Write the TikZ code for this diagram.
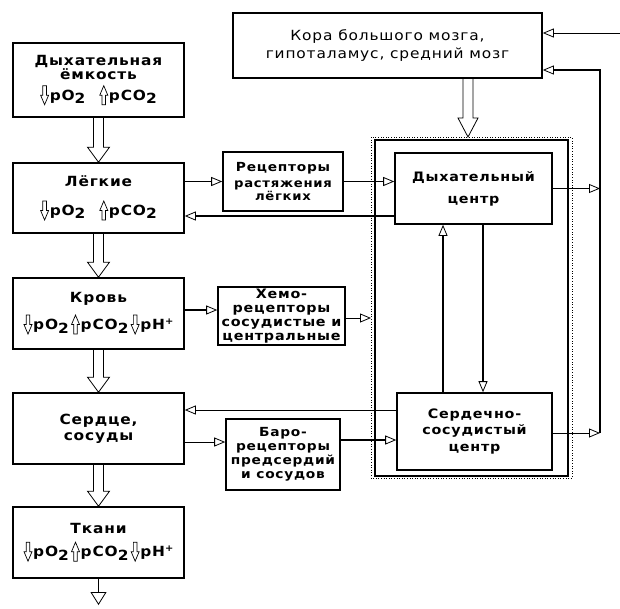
\documentclass[tikz,border=0pt]{standalone}
\usepackage{fontspec}
\usepackage{graphicx}
\setmainfont{DejaVu Sans}[LetterSpace=6,FakeStretch=1.1]
\usetikzlibrary{arrows.meta,calc}
\newsavebox\dnbox
\newsavebox\upbox
\newcommand{\dnA}{\usebox\dnbox\kern0.8pt}
\newcommand{\upA}{\usebox\upbox\kern0.8pt}
\newcommand{\lowtwo}{\raisebox{-0.45ex}{2}}
\newcommand{\supplus}{\raisebox{0.7ex}{\small+}}
\newcommand{\ptp}[2]{\pgfpoint{#1pt}{#2pt}}
\newcommand{\blockarr}[2]{%
  \draw[blk] ($(#1)+(-5,0)$) -- ($(#2)+(-5,-15)$) -- ($(#2)+(-11,-15)$) -- (#2)
     -- ($(#2)+(11,-15)$) -- ($(#2)+(5,-15)$) -- ($(#1)+(5,0)$);}
\tikzset{
  box/.style={draw, line width=1.6pt, inner sep=0pt, align=center},
  blk/.style={line width=0.8pt, line join=miter},
  hol/.style={-{Triangle[open,length=11pt,width=9pt,line width=0.8pt]}},
  thinc/.style={line width=0.9pt, hol},
  thickc/.style={line width=2.6pt, hol},
}
\begin{document}
\sbox\dnbox{\begin{pgfpicture}\pgfsetbaseline{0pt}\pgfsetlinewidth{0.7pt}\pgfsetmiterjoin
\pgfpathmoveto{\ptp{-1.8}{14.5}}\pgfpathlineto{\ptp{-1.8}{5}}\pgfpathlineto{\ptp{-4}{5}}\pgfpathlineto{\ptp{0}{-4.5}}\pgfpathlineto{\ptp{4}{5}}\pgfpathlineto{\ptp{1.8}{5}}\pgfpathlineto{\ptp{1.8}{14.5}}\pgfpathclose\pgfusepath{stroke}\end{pgfpicture}}%
\sbox\upbox{\begin{pgfpicture}\pgfsetbaseline{0pt}\pgfsetlinewidth{0.7pt}\pgfsetmiterjoin
\pgfpathmoveto{\ptp{-1.8}{-4.5}}\pgfpathlineto{\ptp{-1.8}{5}}\pgfpathlineto{\ptp{-4}{5}}\pgfpathlineto{\ptp{0}{14.5}}\pgfpathlineto{\ptp{4}{5}}\pgfpathlineto{\ptp{1.8}{5}}\pgfpathlineto{\ptp{1.8}{-4.5}}\pgfpathclose\pgfusepath{stroke}\end{pgfpicture}}%
\begin{tikzpicture}[x=1pt,y=-1pt]
\useasboundingbox (0,0) rectangle (620,608);
\fill[white] (0,0) rectangle (620,608);
\fontsize{14}{16}\selectfont\bfseries
% left column
\node[box, minimum width=171pt, minimum height=74pt] (dyem) at (98.5,80)
  {Дыхательная\\[-2pt]ёмкость\\[5pt]\dnA pO\lowtwo\quad\upA pCO\lowtwo};
\node[box, minimum width=171pt, minimum height=70pt] (leg) at (98.5,198)
  {Лёгкие\\[13pt]\dnA pO\lowtwo\quad\upA pCO\lowtwo};
\node[box, minimum width=171pt, minimum height=71pt] (krov) at (98.5,313.5)
  {Кровь\\[8pt]\dnA pO\lowtwo\,\upA pCO\lowtwo\,\dnA pH\supplus};
\node[box, minimum width=171pt, minimum height=71pt] (serd) at (98.5,428.5)
  {Сердце,\\сосуды};
\node[box, minimum width=171pt, minimum height=71pt] (tkan) at (98.5,542.5)
  {Ткани\\[7pt]\dnA pO\lowtwo\,\upA pCO\lowtwo\,\dnA pH\supplus};
% right part
\node[box, minimum width=309pt, minimum height=65pt, font=\mdseries\fontsize{14}{18}\selectfont] (kora) at (387.5,45.5)
  {Кора большого мозга,\\гипоталамус, средний мозг};
\draw[line width=0.6pt, dotted] (371,137) rectangle (572,478);
\node[draw, line width=1.2pt, minimum width=193pt, minimum height=336pt, inner sep=0pt] (grp) at (471.5,308) {};
\node[box, minimum width=157pt, minimum height=71pt, font=\bfseries\fontsize{13}{22}\selectfont] (dc) at (473.5,188.5)
  {Дыхательный\\центр};
\node[box, minimum width=155pt, minimum height=77pt, font=\bfseries\fontsize{13}{16.5}\selectfont] (ssc) at (474.5,431.5)
  {Сердечно-\\сосудистый\\центр};
\node[box, minimum width=120pt, minimum height=59pt, font=\bfseries\fontsize{12.5}{14}\selectfont] (rec) at (283,181.5)
  {Рецепторы\\[2pt]{\fontsize{12}{12}\selectfont растяжения}\\[-1pt]{\fontsize{12}{12}\selectfont лёгких}};
\node[box, minimum width=127pt, minimum height=58pt, font=\bfseries\fontsize{13}{14}\selectfont] (chem) at (281.5,316)
  {Хемо-\\рецепторы\\сосудистые и\\центральные};
\node[box, minimum width=114pt, minimum height=71pt, font=\bfseries\fontsize{12.5}{14}\selectfont] (baro) at (283,454.5)
  {Баро-\\рецепторы\\предсердий\\и сосудов};
% block arrows
\blockarr{dyem.south}{leg.north}
\blockarr{leg.south}{krov.north}
\blockarr{krov.south}{serd.north}
\blockarr{serd.south}{tkan.north}
\coordinate (ka) at (468,78);
\coordinate (kb) at (468,137);
\draw[blk] ($(ka)+(-5,0)$) -- ($(kb)+(-5,-19)$) -- ($(kb)+(-10,-19)$) -- (kb)
     -- ($(kb)+(10,-19)$) -- ($(kb)+(5,-19)$) -- ($(ka)+(5,0)$);
\coordinate (tend) at (98.5,605);
\draw[line width=0.9pt, -{Triangle[open,length=13pt,width=16pt,line width=0.8pt]}] (tkan.south) -- (tend);
% connectors
\draw[thinc] (rec.west -| leg.east) -- (rec.west);
\draw[thinc] (rec.east) -- (rec.east -| dc.west);
\coordinate (dl) at (395,216);
\draw[thickc] (dl) -- (dl -| leg.east);
\coordinate (kc) at (184,310);
\draw[line width=1.8pt, hol] (kc) -- (kc -| chem.west);
\coordinate (cg) at (345,318);
\draw[thinc] (cg) -- (371,318);
\coordinate (sw) at (397,410);
\draw[thinc] (sw) -- (sw -| serd.east);
\coordinate (sb) at (184,442);
\draw[thinc] (sb) -- (sb -| baro.west);
\coordinate (bs) at (340,440);
\draw[thickc] (bs) -- (bs -| ssc.west);
\coordinate (v1) at (443,393);
\draw[thickc] (v1) -- (v1 |- dc.south);
\coordinate (v2) at (483,224);
\draw[thickc] (v2) -- (v2 |- ssc.north);
\coordinate (rl) at (600,70);
\coordinate (rb) at (600,433);
\draw[thinc] (dc.east) -- (dc.east -| rl);
\draw[thinc] (rb -| ssc.east) -- (rb);
\draw[thickc] (rb) -- (rl) -- (rl -| kora.east);
\coordinate (tr) at (620,33);
\draw[thinc] (tr) -- (tr -| kora.east);
\end{tikzpicture}
\end{document}
